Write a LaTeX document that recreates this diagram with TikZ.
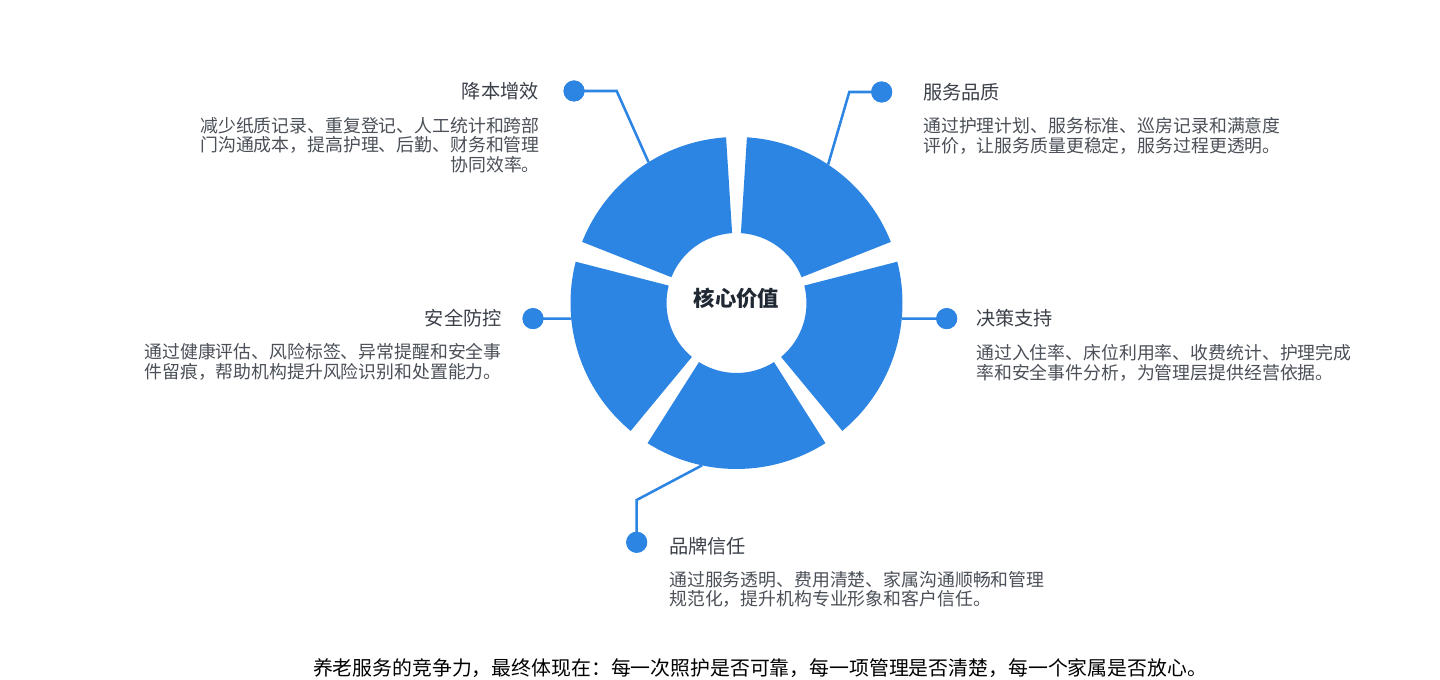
\documentclass[tikz,border=0pt]{standalone}
\usepackage{fontspec}
\setmainfont{Noto Sans CJK SC}
\definecolor{blu}{HTML}{2C84E3}
\definecolor{ttlc}{HTML}{3B4049}
\definecolor{dscc}{HTML}{4B5058}
\definecolor{corec}{HTML}{1F2833}
\newcommand\donutseg[2]{\fill[seg] (#1:124.5pt) arc[start angle=#1,end angle=#2,radius=124.5pt] -- (#2:52.5pt) arc[start angle=#2,end angle=#1,radius=52.5pt] -- cycle;}
\begin{document}
\begin{tikzpicture}[x=0.75pt,y=-0.75pt,
  dot/.style={circle,fill=blu,inner sep=0pt,minimum size=15.75pt},
  link/.style={draw=blu,line width=1.9pt},
  seg/.style={fill=blu},
  ttl/.style={inner sep=0pt,text=ttlc,font=\fontsize{14.4pt}{17pt}\selectfont},
  dsc/.style={inner sep=0pt,text=dscc,font=\fontsize{13.4pt}{14.7pt}\selectfont},
]
\useasboundingbox (0,0) rectangle (1440,680);
\fill[white] (0,0) rectangle (1440,680);

% anchor points on the ring
\begin{scope}[shift={(736.5,303)}]
  \coordinate (e1) at (122:124.5pt);
  \coordinate (e2) at (56.5:124.5pt);
  \coordinate (e3) at (-5.4:124.5pt);
  \coordinate (e4) at (185.4:124.5pt);
  \coordinate (e5) at (-102:124.5pt);
\end{scope}

% dots
\node[dot] (d1) at (574,91) {};
\node[dot] (d2) at (881.7,92) {};
\node[dot] (d3) at (946.7,318.6) {};
\node[dot] (d4) at (533,318.6) {};
\node[dot] (d5) at (636.7,542.3) {};
\coordinate (b1) at (616.7,91);
\coordinate (b2) at (849.3,92);
\coordinate (b5) at (636.7,500);

% connectors
\draw[link] (d1.center) -- (b1) -- (e1);
\draw[link] (d2.center) -- (b2) -- (e2);
\draw[link] (e3) -- (d3.center);
\draw[link] (e4) -- (d4.center);
\draw[link] (d5.center) -- (b5) -- (e5);
\node[dot] at (d1) {};
\node[dot] at (d2) {};
\node[dot] at (d3) {};
\node[dot] at (d4) {};
\node[dot] at (d5) {};

% ring
\begin{scope}[shift={(736.5,303)}]
  \donutseg{21.6}{86.4}
  \donutseg{93.6}{158.4}
  \donutseg{165.6}{230.4}
  \donutseg{237.6}{302.4}
  \donutseg{309.6}{374.4}
\end{scope}
\node[inner sep=0pt,text=corec,font=\fontsize{16pt}{18pt}\selectfont\bfseries] (core) at (736.5,298) {核心价值};

% texts
\node[ttl,anchor=east] (t1) at (539,91) {降本增效};
\node[dsc,anchor=north east,align=right] (s1) at (540,117) {减少纸质记录、重复登记、人工统计和跨部\\门沟通成本，提高护理、后勤、财务和管理\\协同效率。};

\node[ttl,anchor=west] (t2) at (923,92) {服务品质};
\node[dsc,anchor=north west,align=left] (s2) at (923,117) {通过护理计划、服务标准、巡房记录和满意度\\评价，让服务质量更稳定，服务过程更透明。};

\node[ttl,anchor=west] (t3) at (976,318) {决策支持};
\node[dsc,anchor=north west,align=left] (s3) at (976,344) {通过入住率、床位利用率、收费统计、护理完成\\率和安全事件分析，为管理层提供经营依据。};

\node[ttl,anchor=east] (t4) at (502,318) {安全防控};
\node[dsc,anchor=north east,align=right] (s4) at (502,343) {通过健康评估、风险标签、异常提醒和安全事\\件留痕，帮助机构提升风险识别和处置能力。};

\node[ttl,anchor=west] (t5) at (669,546) {品牌信任};
\node[dsc,anchor=north west,align=left] (s5) at (669,571) {通过服务透明、费用清楚、家属沟通顺畅和管理\\规范化，提升机构专业形象和客户信任。};

\node[inner sep=0pt,text=black,font=\fontsize{14.9pt}{18pt}\selectfont] (foot) at (760,668) {养老服务的竞争力，最终体现在：每一次照护是否可靠，每一项管理是否清楚，每一个家属是否放心。};
\end{tikzpicture}
\end{document}
